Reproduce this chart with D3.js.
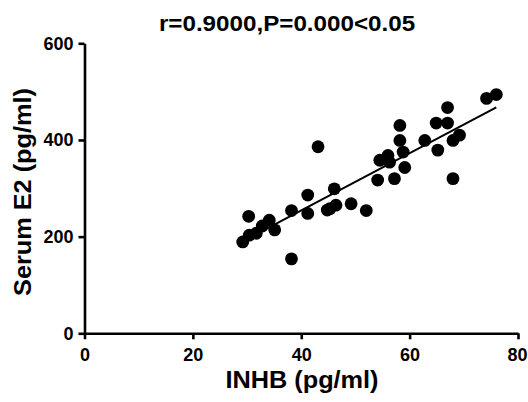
<!DOCTYPE html>
<html>
<head>
<meta charset="utf-8">
<script src="https://cdn.jsdelivr.net/npm/d3@7"></script>
<style>
  body { margin: 0; background: #fff; }
  text { font-family: "Liberation Sans", Arial, sans-serif; font-weight: bold; fill: #000; }
</style>
</head>
<body>
<svg id="chart" width="528" height="402"></svg>
<script>
// INHB (pg/ml) vs serum E2 (pg/ml)
const inhb = [29.2, 30.4, 31.7, 30.3, 34.1, 35.1, 38.2, 38.2, 41.2, 41.2, 43.1, 45.3, 46.4, 46.1,
    49.2, 52.0, 54.1, 54.5, 56.0, 56.3, 57.2, 58.2, 58.2, 58.8, 59.1, 62.8, 65.2, 64.9, 67.0,
    67.0, 68.0, 68.0, 69.2, 74.2, 76.0, 32.8, 44.8];
const e2 = [189, 203, 207, 242, 234, 214, 154, 254, 286, 248, 386, 258, 265, 299,
    268, 254, 317, 358, 368, 354, 320, 430, 399, 375, 343, 399, 379, 435, 435,
    467, 320, 399, 410, 486, 494, 222, 255];
const xTicks = [0, 20, 40, 60, 80];
const yTicks = [0, 200, 400, 600];
const title = "r=0.9000,P=0.000<0.05";
const xLabel = "INHB (pg/ml)";
const yLabel = "Serum E2 (pg/ml)";

const svg = d3.select("#chart");
const margin = { top: 43.3, right: 10, bottom: 68.7, left: 84.5 };
const width = 528, height = 402;
const stretch = 1.1; // the original lettering is a bit wider than Arial

const x = d3.scaleLinear().domain([0, 80]).range([margin.left, width - margin.right]);
const y = d3.scaleLinear().domain([0, 600]).range([height - margin.bottom, margin.top]);

const points = inhb.map((d, i) => ({ x: d, y: e2[i] }));

// least squares fit over the points
const mx = d3.mean(inhb), my = d3.mean(e2);
const slope = d3.sum(points, d => (d.x - mx) * (d.y - my)) / d3.sum(points, d => (d.x - mx) ** 2);
const intercept = my - slope * mx;
const xr = d3.extent(inhb);

const xAxisG = svg.append("g")
    .attr("transform", `translate(0,${y(0)})`)
    .call(d3.axisBottom(x).tickValues(xTicks).tickSize(6).tickPadding(9).tickSizeOuter(0));
const yAxisG = svg.append("g")
    .attr("transform", `translate(${x(0)},0)`)
    .call(d3.axisLeft(y).tickValues(yTicks).tickSize(6).tickPadding(5).tickSizeOuter(0));

[xAxisG, yAxisG].forEach(g => {
    g.select(".domain").attr("stroke", "#000").attr("stroke-width", 2.6);
    g.selectAll(".tick line").attr("stroke", "#000").attr("stroke-width", 2.6);
    g.selectAll(".tick text")
        .attr("fill", "#000")
        .style("font-size", "18px");
});
// keep the last x label inside the window
xAxisG.selectAll(".tick text").filter(d => d === 80).attr("dx", "-1px");

svg.append("line")
    .attr("x1", x(xr[0])).attr("y1", y(intercept + slope * xr[0]))
    .attr("x2", x(xr[1])).attr("y2", y(intercept + slope * xr[1]))
    .attr("stroke", "#000")
    .attr("stroke-width", 2);

svg.append("g")
    .selectAll("circle")
    .data(points)
    .enter().append("circle")
    .attr("cx", d => x(d.x))
    .attr("cy", d => y(d.y))
    .attr("r", 6.4)
    .attr("fill", "#000");

svg.append("text")
    .attr("transform", `translate(287,31) scale(${stretch},1)`)
    .attr("text-anchor", "middle")
    .style("font-size", "22px")
    .text(title);

svg.append("text")
    .attr("transform", `translate(302,388) scale(${stretch},1)`)
    .attr("text-anchor", "middle")
    .style("font-size", "23px")
    .text(xLabel);

svg.append("text")
    .attr("transform", `translate(31,192) rotate(-90) scale(${stretch},1)`)
    .attr("text-anchor", "middle")
    .style("font-size", "23px")
    .text(yLabel);
</script>
</body>
</html>
